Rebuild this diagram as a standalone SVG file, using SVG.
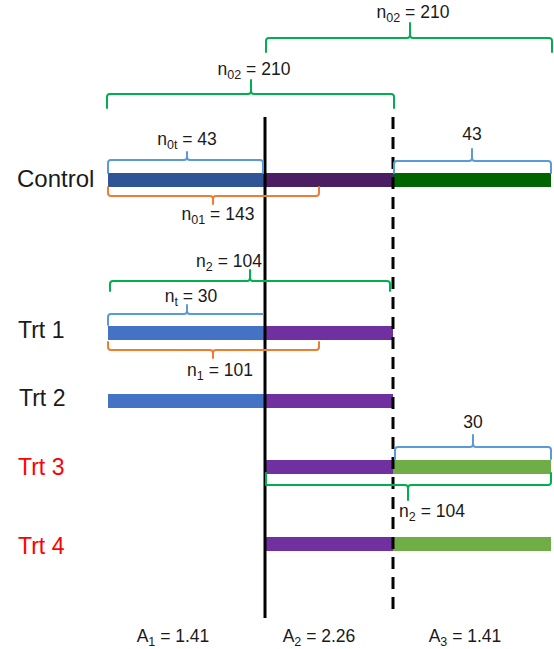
<svg xmlns="http://www.w3.org/2000/svg" width="554" height="649" viewBox="0 0 554 649">
<style>
text{font-family:"Liberation Sans",Arial,sans-serif;fill:#1a1a1a}
.row{font-size:23px}
.ctl{font-size:24px}
.red{fill:#ff0000}
.lbl{font-size:17.5px;text-anchor:middle}
.sub{font-size:12.5px}
.br{fill:none;stroke-width:2;stroke-linejoin:round;stroke-linecap:round}
.bb{stroke:#5b9bd5}
.bo{stroke:#ed7d31}
.bg{stroke:#00b050}
.vl{stroke:#000;stroke-width:3}
</style>
<rect width="554" height="649" fill="#fff"/>
<g id="control">
<rect x="108" y="173" width="157" height="14" fill="#2f5597"/>
<rect x="265" y="173" width="128" height="14" fill="#4b1e63"/>
<rect x="393" y="173" width="158" height="14" fill="#006400"/>
<text class="ctl" x="17" y="187">Control</text>
</g>
<g id="trt1">
<rect x="108" y="326" width="157" height="14" fill="#4472c4"/>
<rect x="265" y="326" width="128" height="14" fill="#7030a0"/>
<text class="row" x="18" y="338">Trt 1</text>
</g>
<g id="trt2">
<rect x="108" y="394" width="157" height="14" fill="#4472c4"/>
<rect x="265" y="394" width="128" height="14" fill="#7030a0"/>
<text class="row" x="19" y="406">Trt 2</text>
</g>
<g id="trt3">
<rect x="265" y="460" width="128" height="14" fill="#7030a0"/>
<rect x="393" y="460" width="158" height="14" fill="#70ad47"/>
<text class="row red" x="18" y="475">Trt 3</text>
</g>
<g id="trt4">
<rect x="265" y="537" width="128" height="14" fill="#7030a0"/>
<rect x="393" y="537" width="158" height="14" fill="#70ad47"/>
<text class="row red" x="18" y="554">Trt 4</text>
</g>
<g id="connectors">
<line class="vl" x1="265" y1="117" x2="265" y2="618"/>
<line class="vl" x1="393" y1="117" x2="393" y2="617" stroke-dasharray="12 8"/>
</g>
<g id="braces">
<path class="br bg" d="M266,52 V41 Q266,38 269,38 H407 Q410,38 410,35 V23 M410,35 Q410,38 413,38 H549 Q552,38 552,41 V52"/>
<path class="br bg" d="M107,108 V97 Q107,94 110,94 H248 Q251,94 251,91 V80 M251,91 Q251,94 254,94 H391 Q394,94 394,97 V108"/>
<path class="br bb" d="M108,173 V163 Q108,160 111,160 H184 Q187,160 187,157 V152 M187,157 Q187,160 190,160 H260 Q263,160 263,163 V173"/>
<path class="br bb" d="M394,173 V164 Q394,161 397,161 H469 Q472,161 472,158 V149 M472,158 Q472,161 475,161 H548 Q551,161 551,164 V173"/>
<path class="br bo" d="M108,187 V193 Q108,196 111,196 H210 Q213,196 213,199 V204 M213,199 Q213,196 216,196 H316 Q319,196 319,193 V187"/>
<path class="br bg" d="M110,291 V284 Q110,281 113,281 H247 Q250,281 250,278 V270 M250,278 Q250,281 253,281 H387 Q390,281 390,284 V291"/>
<path class="br bb" d="M108,325 V317 Q108,314 111,314 H184 Q187,314 187,311 V305 M187,311 Q187,314 190,314 H263"/>
<path class="br bo" d="M108,342 V347 Q108,350 111,350 H210 Q213,350 213,353 V358 M213,353 Q213,350 216,350 H316 Q319,350 319,347 V342"/>
<path class="br bb" d="M395,459 V450 Q395,447 398,447 H470 Q473,447 473,444 V435 M473,444 Q473,447 476,447 H548 Q551,447 551,450 V459"/>
<path class="br bg" d="M266,473 V485 H405 Q408,485 408,488 V500 M408,488 Q408,485 411,485 H548 Q551,485 551,482 V473"/>
</g>
<g id="labels">
<text class="lbl" x="413" y="18">n<tspan class="sub" dy="4">02</tspan><tspan dy="-4"> = 210</tspan></text>
<text class="lbl" x="254" y="75">n<tspan class="sub" dy="4">02</tspan><tspan dy="-4"> = 210</tspan></text>
<text class="lbl" x="187" y="145">n<tspan class="sub" dy="4">0t</tspan><tspan dy="-4"> = 43</tspan></text>
<text class="lbl" x="472" y="140">43</text>
<text class="lbl" x="218" y="220">n<tspan class="sub" dy="4">01</tspan><tspan dy="-4"> = 143</tspan></text>
<text class="lbl" x="229" y="267">n<tspan class="sub" dy="4">2</tspan><tspan dy="-4"> = 104</tspan></text>
<text class="lbl" x="191" y="302">n<tspan class="sub" dy="4">t</tspan><tspan dy="-4"> = 30</tspan></text>
<text class="lbl" x="220" y="376">n<tspan class="sub" dy="4">1</tspan><tspan dy="-4"> = 101</tspan></text>
<text class="lbl" x="473" y="428">30</text>
<text class="lbl" x="432" y="517">n<tspan class="sub" dy="4">2</tspan><tspan dy="-4"> = 104</tspan></text>
<text class="lbl" x="173" y="642">A<tspan class="sub" dy="4">1</tspan><tspan dy="-4"> = 1.41</tspan></text>
<text class="lbl" x="319" y="642">A<tspan class="sub" dy="4">2</tspan><tspan dy="-4"> = 2.26</tspan></text>
<text class="lbl" x="465" y="642">A<tspan class="sub" dy="4">3</tspan><tspan dy="-4"> = 1.41</tspan></text>
</g>
</svg>
